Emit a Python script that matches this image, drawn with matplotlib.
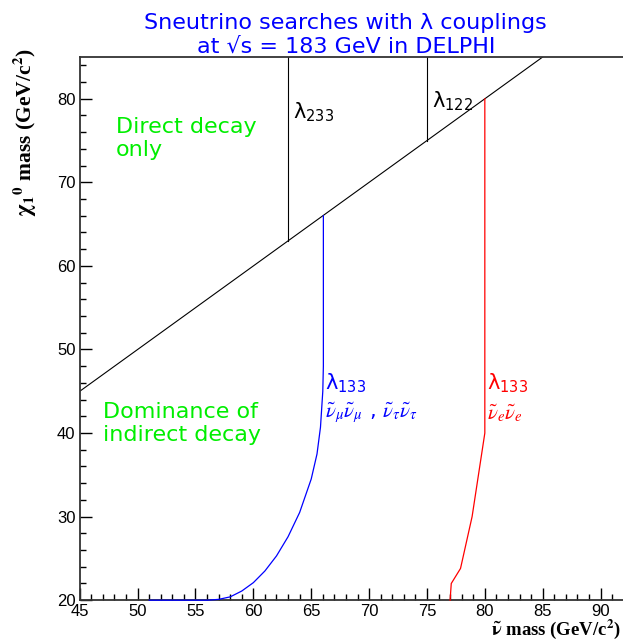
import matplotlib.pyplot as plt
from matplotlib.ticker import MultipleLocator

# kinematic limit m(chi) = m(sneutrino)
diag_x = [45, 85]
diag_y = [45, 85]

# lambda_233 and lambda_122 limits
l233_x = [63, 63]
l233_y = [63, 85]
l122_x = [75, 75]
l122_y = [75, 85]

# lambda_133, mu/tau sneutrinos (blue)
blue_x = [51, 56, 57, 58, 59, 60, 61, 62, 63, 64, 65, 65.5, 65.8, 66, 66.05, 66.05]
blue_y = [20, 20, 20.1, 20.4, 21.1, 22.1, 23.5, 25.3, 27.6, 30.5, 34.5, 37.5, 40.7, 45, 48, 66]

# lambda_133, electron sneutrino (red)
red_x = [77, 77.1, 77.9, 78.9, 80, 80]
red_y = [20, 22, 23.8, 30, 40, 80]

fig = plt.figure(figsize=(6.23, 6.44), dpi=100)
ax = fig.add_axes([0.128, 0.068, 0.875, 0.8435])

ax.plot(diag_x, diag_y, color="black", lw=0.8)
ax.plot(l233_x, l233_y, color="black", lw=0.8)
ax.plot(l122_x, l122_y, color="black", lw=0.8)
ax.plot(blue_x, blue_y, color="blue", lw=0.9, zorder=5, clip_on=False)
ax.plot(red_x, red_y, color="red", lw=0.9, zorder=5, clip_on=False)

ax.set_xlim(45, 92.1)
ax.set_ylim(20, 85)

ax.xaxis.set_major_locator(MultipleLocator(5))
ax.xaxis.set_minor_locator(MultipleLocator(1))
ax.yaxis.set_major_locator(MultipleLocator(10))
ax.yaxis.set_minor_locator(MultipleLocator(2))
ax.tick_params(which="both", direction="in", top=False, right=False,
               labelsize=12, width=1.0)
ax.tick_params(which="major", length=8.5, pad=3)
ax.tick_params(which="minor", length=4.5)
for lab in ax.get_xticklabels() + ax.get_yticklabels():
    lab.set_family("Liberation Sans")
for s in ax.spines.values():
    s.set_linewidth(1.3)
    s.set_color("#333333")

# region labels
ax.text(48.1, 75.2, "Direct decay\nonly", color="#00ee00", fontsize=16,
        va="center", ha="left", linespacing=1.2)
ax.text(47.0, 41.1, "Dominance of\nindirect decay", color="#00ee00", fontsize=16,
        va="center", ha="left", linespacing=1.2)

# coupling labels
ax.text(63.4, 78.4, "λ$_{233}$", color="black", fontsize=15, va="center")
ax.text(75.4, 79.7, "λ$_{122}$", color="black", fontsize=15, va="center")
ax.text(66.2, 46.0, "λ$_{133}$", color="blue", fontsize=15, va="center")
ax.text(66.2, 42.4, r"$\tilde{\nu}_\mu\tilde{\nu}_\mu$ , $\tilde{\nu}_\tau\tilde{\nu}_\tau$",
        color="blue", fontsize=15, va="center", math_fontfamily="stix")
ax.text(80.2, 46.0, "λ$_{133}$", color="red", fontsize=15, va="center")
ax.text(80.2, 42.4, r"$\tilde{\nu}_e\tilde{\nu}_e$", color="red", fontsize=15,
        va="center", math_fontfamily="stix")

# axis titles
fig.text(0.997, 0.004, r"$\mathbf{\tilde{\nu}}$ mass (GeV/c$^\mathbf{2}$)",
         ha="right", va="bottom", fontsize=13.5, family="Liberation Serif",
         weight="bold", math_fontfamily="stix")
fig.text(0.040, 0.925, r"$\mathbf{\chi_1}^\mathbf{0}$ mass (GeV/c$^\mathbf{2}$)",
         ha="center", va="top", rotation=90, fontsize=15.5,
         family="Liberation Serif", weight="bold", math_fontfamily="stix")

fig.text(0.555, 0.946, "Sneutrino searches with λ couplings\nat √s = 183 GeV in DELPHI",
         ha="center", va="center", color="blue", fontsize=16, linespacing=1.2)

fig.savefig("out.png", dpi=100)
